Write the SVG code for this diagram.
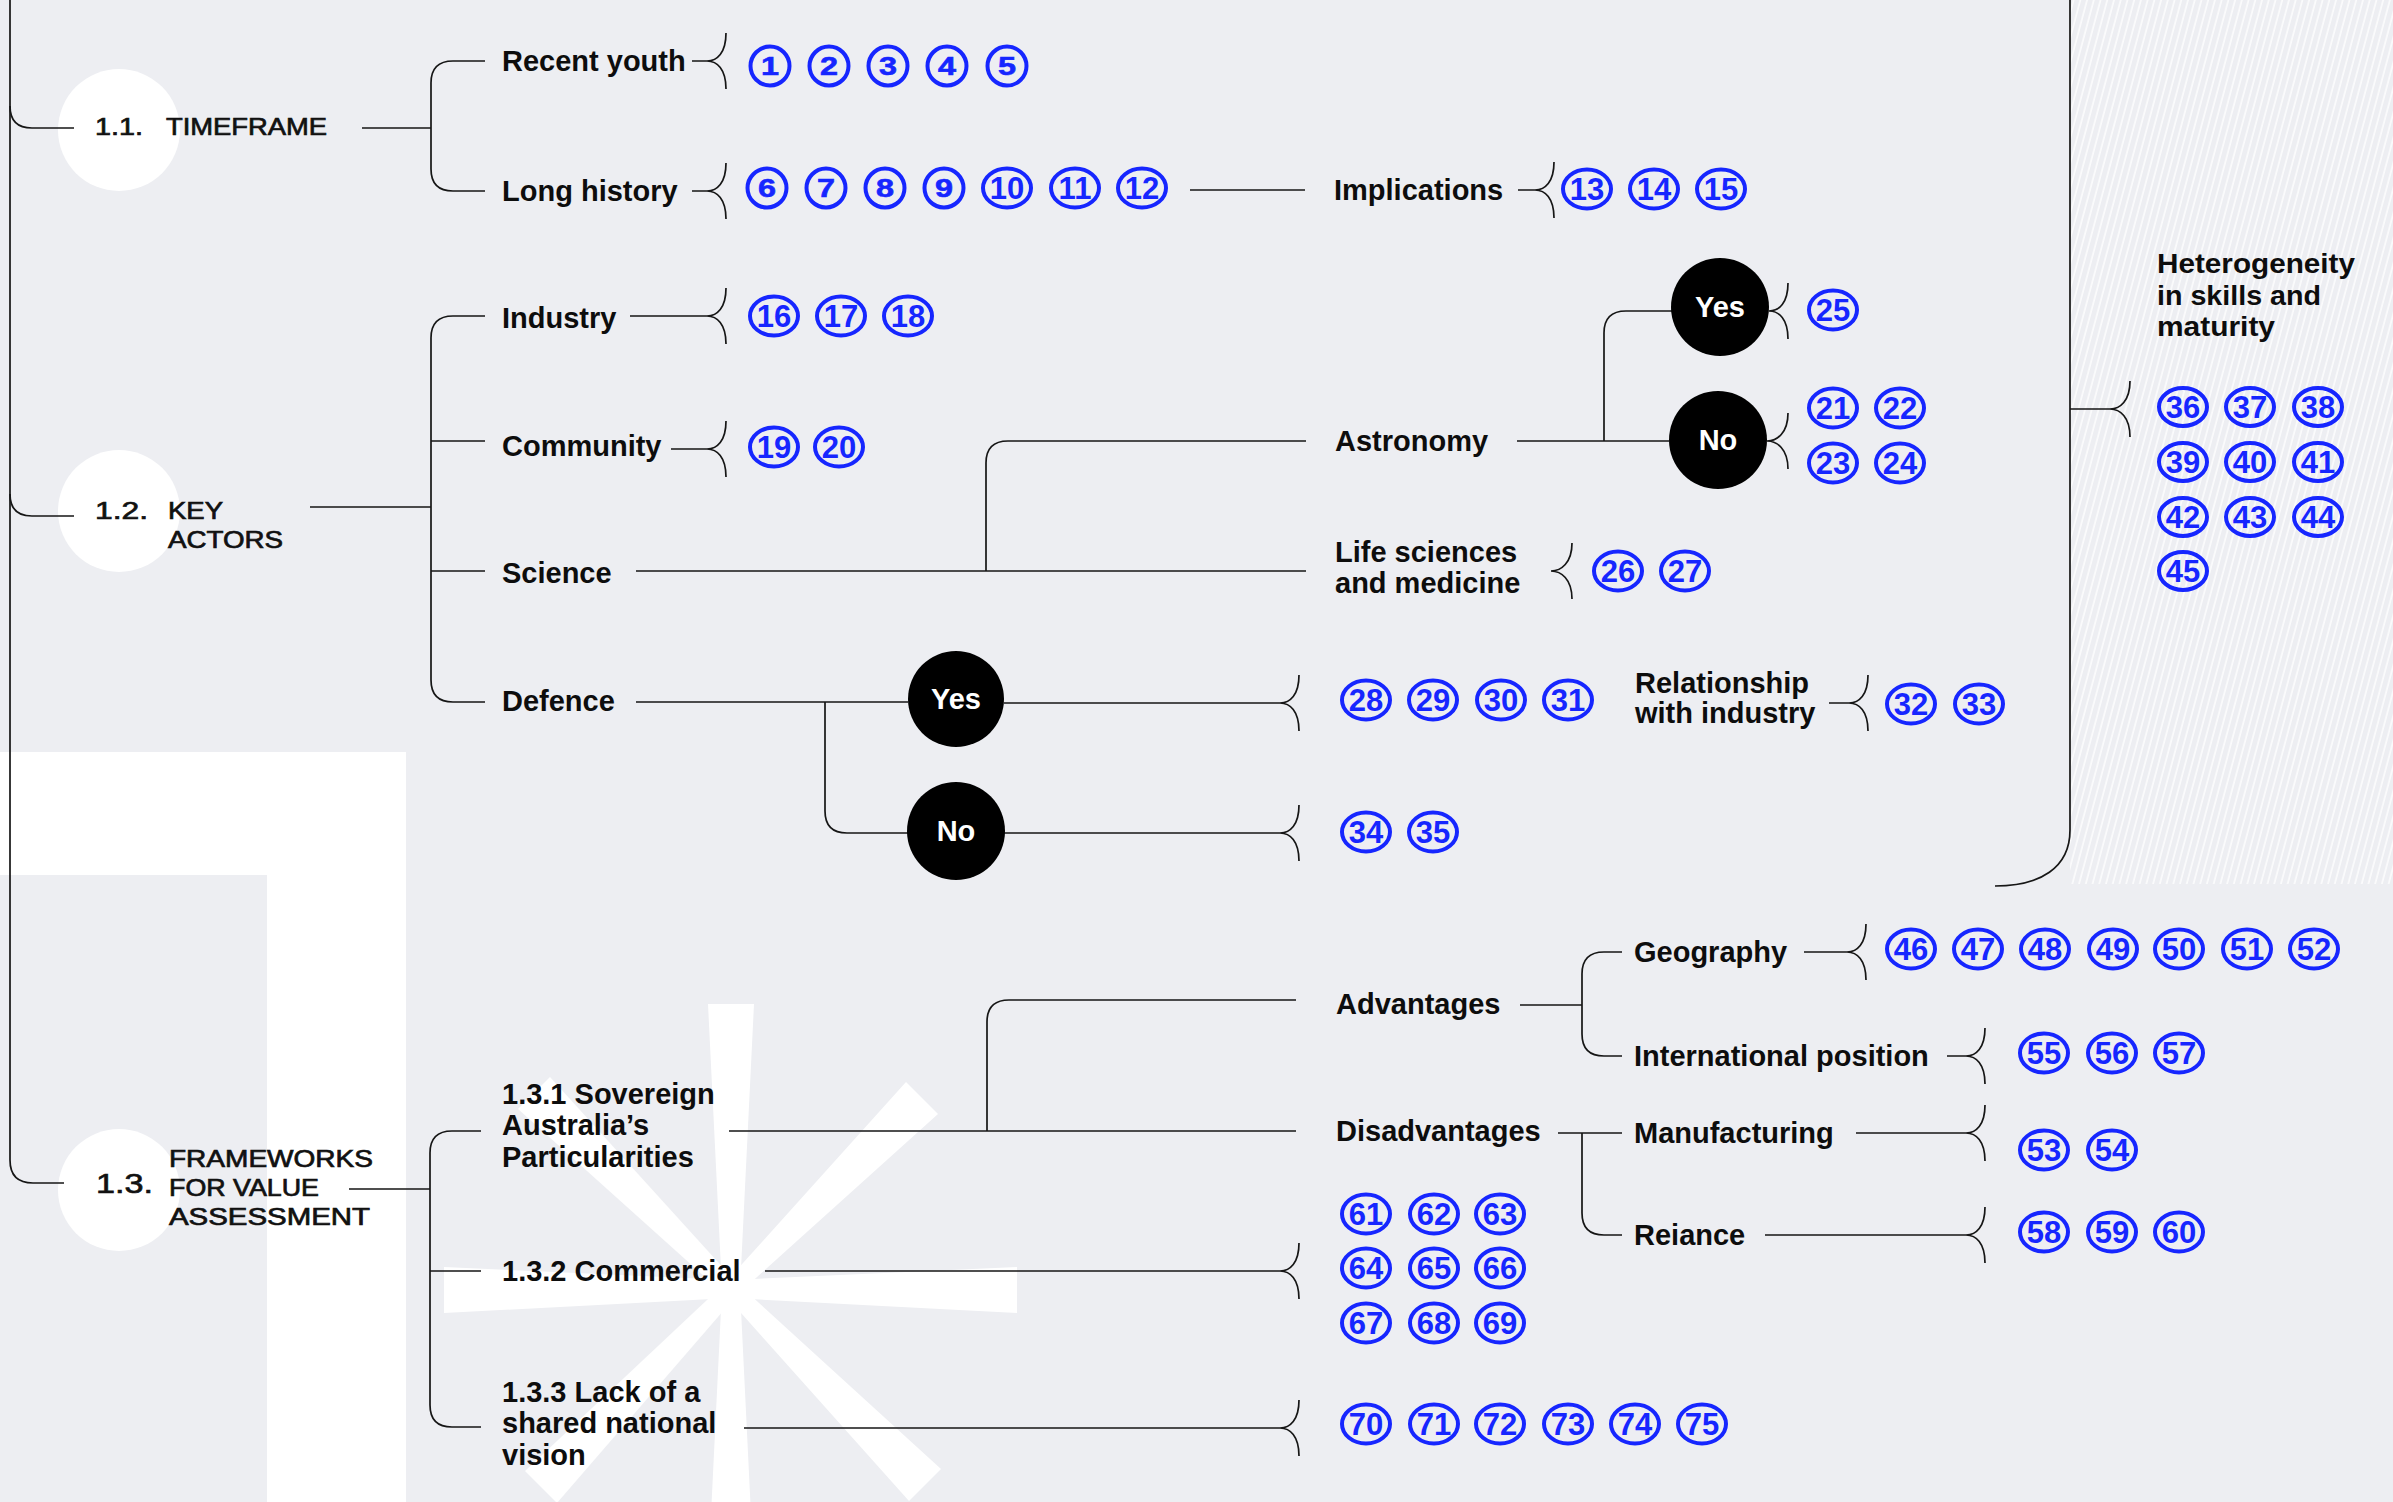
<svg xmlns="http://www.w3.org/2000/svg" width="2393" height="1502" viewBox="0 0 2393 1502">
<defs>
<style>
.ln{fill:none;stroke:#161616;stroke-width:1.7}
.lbl{font-family:"Liberation Sans",Arial,sans-serif;font-weight:700;font-size:29px;fill:#0d0d0d}
.sec{font-family:"Liberation Sans",Arial,sans-serif;font-size:24px;fill:#111;stroke:#111;stroke-width:0.7}
.het{font-family:"Liberation Sans",Arial,sans-serif;font-weight:700;font-size:28px;fill:#0d0d0d}
.o{fill:none;stroke:#1626ff;stroke-width:4}
.n2{font-family:"Liberation Sans",Arial,sans-serif;font-weight:700;font-size:31px;fill:#1626ff;text-anchor:middle}
.n1{font-family:"Liberation Sans",Arial,sans-serif;font-weight:700;font-size:25px;fill:#1626ff;text-anchor:middle;stroke:#1626ff;stroke-width:0.6}
.dot{fill:#000}
.yn{font-family:"Liberation Sans",Arial,sans-serif;font-weight:700;font-size:29px;fill:#fff;text-anchor:middle}
.wc{fill:#fff}
</style>
<pattern id="hatch" width="6.5" height="20" patternUnits="userSpaceOnUse" patternTransform="rotate(15)">
<line x1="1" y1="0" x2="1" y2="20" stroke="#ffffff" stroke-width="1.3"/>
</pattern>
</defs>
<g id="background">
<rect x="0" y="0" width="2393" height="1502" fill="#edeef2"/>
<rect x="2070" y="0" width="323" height="884" fill="url(#hatch)"/>
<polygon fill="#fff" points="0,752 406,752 406,1502 267,1502 267,875 0,875"/>
<g fill="#fff">
<polygon points="740,1289 722,1289 708,1004 754,1004"/>
<polygon points="740,1289 722,1289 708,1576 754,1576"/>
<polygon points="731,1280 731,1298 444,1313 444,1267"/>
<polygon points="731,1280 731,1298 1017,1313 1017,1267"/>
<polygon points="737,1283 550,1077 518,1109 725,1295"/>
<polygon points="725,1283 906,1082 938,1114 737,1295"/>
<polygon points="725,1283 525,1471 557,1503 737,1295"/>
<polygon points="737,1283 941,1469 909,1501 725,1295"/>
</g>
<circle class="wc" cx="119" cy="130" r="61"/>
<circle class="wc" cx="119" cy="511" r="61"/>
<circle class="wc" cx="119" cy="1190" r="61"/>
</g>
<g id="connectors">
<path class="ln" d="M10,0 V1160 Q10,1183 33,1183 H64"/>
<path class="ln" d="M10,106 Q10,128 32,128 H74"/>
<path class="ln" d="M10,494 Q10,516 32,516 H74"/>
<path class="ln" d="M362,128 H431 M485,61 H453 Q431,61 431,83 V169 Q431,191 453,191 H485"/>
<path class="ln" d="M310,507 H431 M485,316 H453 Q431,316 431,338 V680 Q431,702 453,702 H485 M431,441 H485 M431,571 H485"/>
<path class="ln" d="M636,571 H1306 M986,571 V463 Q986,441 1008,441 H1306"/>
<path class="ln" d="M1517,441 H1669 M1604,441 V333 Q1604,311 1626,311 H1672"/>
<path class="ln" d="M636,702 H908 M825,702 V811 Q825,833 847,833 H908"/>
<path class="ln" d="M1190,190 H1305"/>
<path class="ln" d="M349,1189 H430 M481,1131 H452 Q430,1131 430,1153 V1405 Q430,1427 452,1427 H481 M430,1271 H481"/>
<path class="ln" d="M729,1131 H1296 M987,1131 V1022 Q987,1000 1009,1000 H1296"/>
<path class="ln" d="M1520,1005 H1582 M1622,952 H1604 Q1582,952 1582,974 V1034 Q1582,1056 1604,1056 H1622"/>
<path class="ln" d="M1558,1133 H1622 M1582,1133 V1213 Q1582,1235 1604,1235 H1622"/>
<path class="ln" d="M2070,0 V830 C2070,868 2040,886 1995,886"/>
<path class="ln" d="M692,61 H707 M726,33 C726,53 717,61 707,61 C717,61 726,69 726,89"/>
<path class="ln" d="M692,191 H707 M726,163 C726,183 717,191 707,191 C717,191 726,199 726,219"/>
<path class="ln" d="M1518,190 H1535 M1554,162 C1554,182 1545,190 1535,190 C1545,190 1554,198 1554,218"/>
<path class="ln" d="M630,316 H707 M726,288 C726,308 717,316 707,316 C717,316 726,324 726,344"/>
<path class="ln" d="M671,449 H707 M726,421 C726,441 717,449 707,449 C717,449 726,457 726,477"/>
<path class="ln" d="M1788,283 C1788,303 1779,311 1769,311 C1779,311 1788,319 1788,339"/>
<path class="ln" d="M1788,413 C1788,433 1777,441 1767,441 C1777,441 1788,449 1788,469"/>
<path class="ln" d="M1572,543 C1572,563 1561,571 1551,571 C1561,571 1572,579 1572,599"/>
<path class="ln" d="M1004,703 H1280 M1299,675 C1299,695 1290,703 1280,703 C1290,703 1299,711 1299,731"/>
<path class="ln" d="M1004,833 H1280 M1299,805 C1299,825 1290,833 1280,833 C1290,833 1299,841 1299,861"/>
<path class="ln" d="M1829,703 H1849 M1868,675 C1868,695 1859,703 1849,703 C1859,703 1868,711 1868,731"/>
<path class="ln" d="M2070,409 H2110 M2130,381 C2130,401 2120,409 2110,409 C2120,409 2130,417 2130,437"/>
<path class="ln" d="M1804,952 H1847 M1866,924 C1866,944 1857,952 1847,952 C1857,952 1866,960 1866,980"/>
<path class="ln" d="M1947,1056 H1966 M1985,1028 C1985,1048 1976,1056 1966,1056 C1976,1056 1985,1064 1985,1084"/>
<path class="ln" d="M1856,1133 H1966 M1985,1105 C1985,1125 1976,1133 1966,1133 C1976,1133 1985,1141 1985,1161"/>
<path class="ln" d="M1765,1235 H1966 M1985,1207 C1985,1227 1976,1235 1966,1235 C1976,1235 1985,1243 1985,1263"/>
<path class="ln" d="M765,1271 H1280 M1299,1243 C1299,1263 1290,1271 1280,1271 C1290,1271 1299,1279 1299,1299"/>
<path class="ln" d="M744,1428 H1280 M1299,1400 C1299,1420 1290,1428 1280,1428 C1290,1428 1299,1436 1299,1456"/>
</g>
<g id="sec-1-1"><text class="sec" x="95" y="135" textLength="48" lengthAdjust="spacingAndGlyphs">1.1.</text><text class="sec" x="166" y="135" textLength="161" lengthAdjust="spacingAndGlyphs">TIMEFRAME</text></g>
<g id="sec-1-2"><text class="sec" x="95" y="519" textLength="53" lengthAdjust="spacingAndGlyphs">1.2.</text><text class="sec" x="168" y="519" textLength="55" lengthAdjust="spacingAndGlyphs">KEY</text><text class="sec" x="168" y="548" textLength="115" lengthAdjust="spacingAndGlyphs">ACTORS</text></g>
<g id="sec-1-3"><text class="sec" x="96" y="1193" style="font-size:28px" textLength="57" lengthAdjust="spacingAndGlyphs">1.3.</text><text class="sec" x="169" y="1167" textLength="204" lengthAdjust="spacingAndGlyphs">FRAMEWORKS</text><text class="sec" x="169" y="1196" textLength="150" lengthAdjust="spacingAndGlyphs">FOR VALUE</text><text class="sec" x="169" y="1225" textLength="201" lengthAdjust="spacingAndGlyphs">ASSESSMENT</text></g>
<g id="recent-youth"><text class="lbl" x="502" y="71">Recent youth</text></g>
<g id="long-history"><text class="lbl" x="502" y="201">Long history</text></g>
<g id="implications"><text class="lbl" x="1334" y="200">Implications</text></g>
<g id="industry"><text class="lbl" x="502" y="328">Industry</text></g>
<g id="community"><text class="lbl" x="502" y="456">Community</text></g>
<g id="science"><text class="lbl" x="502" y="583">Science</text></g>
<g id="defence"><text class="lbl" x="502" y="711">Defence</text></g>
<g id="astronomy"><text class="lbl" x="1335" y="451">Astronomy</text></g>
<g id="life-sciences"><text class="lbl" x="1335" y="562">Life sciences</text><text class="lbl" x="1335" y="593">and medicine</text></g>
<g id="relationship"><text class="lbl" x="1635" y="693">Relationship</text><text class="lbl" x="1635" y="723">with industry</text></g>
<g id="heterogeneity"><text class="het" x="2157" y="273" textLength="198" lengthAdjust="spacingAndGlyphs">Heterogeneity</text><text class="het" x="2157" y="305" textLength="164" lengthAdjust="spacingAndGlyphs">in skills and</text><text class="het" x="2157" y="336" textLength="118" lengthAdjust="spacingAndGlyphs">maturity</text></g>
<g id="sovereign"><text class="lbl" x="502" y="1104">1.3.1 Sovereign</text><text class="lbl" x="502" y="1135">Australia’s</text><text class="lbl" x="502" y="1167">Particularities</text></g>
<g id="commercial"><text class="lbl" x="502" y="1281">1.3.2 Commercial</text></g>
<g id="lack-vision"><text class="lbl" x="502" y="1402">1.3.3 Lack of a</text><text class="lbl" x="502" y="1433">shared national</text><text class="lbl" x="502" y="1465">vision</text></g>
<g id="advantages"><text class="lbl" x="1336" y="1014">Advantages</text></g>
<g id="disadvantages"><text class="lbl" x="1336" y="1141">Disadvantages</text></g>
<g id="geography"><text class="lbl" x="1634" y="962">Geography</text></g>
<g id="intl-position"><text class="lbl" x="1634" y="1066">International position</text></g>
<g id="manufacturing"><text class="lbl" x="1634" y="1143">Manufacturing</text></g>
<g id="reiance"><text class="lbl" x="1634" y="1245">Reiance</text></g>
<g id="astro-yes"><circle class="dot" cx="1720" cy="307" r="49"/><text class="yn" x="1720" y="317">Yes</text></g>
<g id="astro-no"><circle class="dot" cx="1718" cy="440" r="49"/><text class="yn" x="1718" y="450">No</text></g>
<g id="def-yes"><circle class="dot" cx="956" cy="699" r="48"/><text class="yn" x="956" y="709">Yes</text></g>
<g id="def-no"><circle class="dot" cx="956" cy="831" r="49"/><text class="yn" x="956" y="841">No</text></g>
<g id="ref-1"><circle class="o" cx="770" cy="66" r="19.5"/><text class="n1" x="770" y="75" textLength="18" lengthAdjust="spacingAndGlyphs">1</text></g>
<g id="ref-2"><circle class="o" cx="829" cy="66" r="19.5"/><text class="n1" x="829" y="75" textLength="18" lengthAdjust="spacingAndGlyphs">2</text></g>
<g id="ref-3"><circle class="o" cx="888" cy="66" r="19.5"/><text class="n1" x="888" y="75" textLength="18" lengthAdjust="spacingAndGlyphs">3</text></g>
<g id="ref-4"><circle class="o" cx="947" cy="66" r="19.5"/><text class="n1" x="947" y="75" textLength="18" lengthAdjust="spacingAndGlyphs">4</text></g>
<g id="ref-5"><circle class="o" cx="1007" cy="66" r="19.5"/><text class="n1" x="1007" y="75" textLength="18" lengthAdjust="spacingAndGlyphs">5</text></g>
<g id="ref-6"><circle class="o" cx="767" cy="188" r="19.5"/><text class="n1" x="767" y="197" textLength="18" lengthAdjust="spacingAndGlyphs">6</text></g>
<g id="ref-7"><circle class="o" cx="826" cy="188" r="19.5"/><text class="n1" x="826" y="197" textLength="18" lengthAdjust="spacingAndGlyphs">7</text></g>
<g id="ref-8"><circle class="o" cx="885" cy="188" r="19.5"/><text class="n1" x="885" y="197" textLength="18" lengthAdjust="spacingAndGlyphs">8</text></g>
<g id="ref-9"><circle class="o" cx="944" cy="188" r="19.5"/><text class="n1" x="944" y="197" textLength="18" lengthAdjust="spacingAndGlyphs">9</text></g>
<g id="ref-10"><ellipse class="o" cx="1007" cy="188" rx="24" ry="19.5"/><text class="n2" x="1007" y="199">10</text></g>
<g id="ref-11"><ellipse class="o" cx="1075" cy="188" rx="24" ry="19.5"/><text class="n2" x="1075" y="199">11</text></g>
<g id="ref-12"><ellipse class="o" cx="1142" cy="188" rx="24" ry="19.5"/><text class="n2" x="1142" y="199">12</text></g>
<g id="ref-13"><ellipse class="o" cx="1587" cy="189" rx="24" ry="19.5"/><text class="n2" x="1587" y="200">13</text></g>
<g id="ref-14"><ellipse class="o" cx="1654" cy="189" rx="24" ry="19.5"/><text class="n2" x="1654" y="200">14</text></g>
<g id="ref-15"><ellipse class="o" cx="1721" cy="189" rx="24" ry="19.5"/><text class="n2" x="1721" y="200">15</text></g>
<g id="ref-16"><ellipse class="o" cx="774" cy="316" rx="24" ry="19.5"/><text class="n2" x="774" y="327">16</text></g>
<g id="ref-17"><ellipse class="o" cx="841" cy="316" rx="24" ry="19.5"/><text class="n2" x="841" y="327">17</text></g>
<g id="ref-18"><ellipse class="o" cx="908" cy="316" rx="24" ry="19.5"/><text class="n2" x="908" y="327">18</text></g>
<g id="ref-19"><ellipse class="o" cx="774" cy="447" rx="24" ry="19.5"/><text class="n2" x="774" y="458">19</text></g>
<g id="ref-20"><ellipse class="o" cx="839" cy="447" rx="24" ry="19.5"/><text class="n2" x="839" y="458">20</text></g>
<g id="ref-21"><ellipse class="o" cx="1833" cy="408" rx="24" ry="19.5"/><text class="n2" x="1833" y="419">21</text></g>
<g id="ref-22"><ellipse class="o" cx="1900" cy="408" rx="24" ry="19.5"/><text class="n2" x="1900" y="419">22</text></g>
<g id="ref-23"><ellipse class="o" cx="1833" cy="463" rx="24" ry="19.5"/><text class="n2" x="1833" y="474">23</text></g>
<g id="ref-24"><ellipse class="o" cx="1900" cy="463" rx="24" ry="19.5"/><text class="n2" x="1900" y="474">24</text></g>
<g id="ref-25"><ellipse class="o" cx="1833" cy="310" rx="24" ry="19.5"/><text class="n2" x="1833" y="321">25</text></g>
<g id="ref-26"><ellipse class="o" cx="1618" cy="571" rx="24" ry="19.5"/><text class="n2" x="1618" y="582">26</text></g>
<g id="ref-27"><ellipse class="o" cx="1685" cy="571" rx="24" ry="19.5"/><text class="n2" x="1685" y="582">27</text></g>
<g id="ref-28"><ellipse class="o" cx="1366" cy="700" rx="24" ry="19.5"/><text class="n2" x="1366" y="711">28</text></g>
<g id="ref-29"><ellipse class="o" cx="1433" cy="700" rx="24" ry="19.5"/><text class="n2" x="1433" y="711">29</text></g>
<g id="ref-30"><ellipse class="o" cx="1501" cy="700" rx="24" ry="19.5"/><text class="n2" x="1501" y="711">30</text></g>
<g id="ref-31"><ellipse class="o" cx="1568" cy="700" rx="24" ry="19.5"/><text class="n2" x="1568" y="711">31</text></g>
<g id="ref-32"><ellipse class="o" cx="1911" cy="704" rx="24" ry="19.5"/><text class="n2" x="1911" y="715">32</text></g>
<g id="ref-33"><ellipse class="o" cx="1979" cy="704" rx="24" ry="19.5"/><text class="n2" x="1979" y="715">33</text></g>
<g id="ref-34"><ellipse class="o" cx="1366" cy="832" rx="24" ry="19.5"/><text class="n2" x="1366" y="843">34</text></g>
<g id="ref-35"><ellipse class="o" cx="1433" cy="832" rx="24" ry="19.5"/><text class="n2" x="1433" y="843">35</text></g>
<g id="ref-36"><ellipse class="o" cx="2183" cy="407" rx="24" ry="19"/><text class="n2" x="2183" y="418">36</text></g>
<g id="ref-37"><ellipse class="o" cx="2250" cy="407" rx="24" ry="19"/><text class="n2" x="2250" y="418">37</text></g>
<g id="ref-38"><ellipse class="o" cx="2318" cy="407" rx="24" ry="19"/><text class="n2" x="2318" y="418">38</text></g>
<g id="ref-39"><ellipse class="o" cx="2183" cy="462" rx="24" ry="19"/><text class="n2" x="2183" y="473">39</text></g>
<g id="ref-40"><ellipse class="o" cx="2250" cy="462" rx="24" ry="19"/><text class="n2" x="2250" y="473">40</text></g>
<g id="ref-41"><ellipse class="o" cx="2318" cy="462" rx="24" ry="19"/><text class="n2" x="2318" y="473">41</text></g>
<g id="ref-42"><ellipse class="o" cx="2183" cy="517" rx="24" ry="19"/><text class="n2" x="2183" y="528">42</text></g>
<g id="ref-43"><ellipse class="o" cx="2250" cy="517" rx="24" ry="19"/><text class="n2" x="2250" y="528">43</text></g>
<g id="ref-44"><ellipse class="o" cx="2318" cy="517" rx="24" ry="19"/><text class="n2" x="2318" y="528">44</text></g>
<g id="ref-45"><ellipse class="o" cx="2183" cy="571" rx="24" ry="19"/><text class="n2" x="2183" y="582">45</text></g>
<g id="ref-46"><ellipse class="o" cx="1911" cy="949" rx="24" ry="19.5"/><text class="n2" x="1911" y="960">46</text></g>
<g id="ref-47"><ellipse class="o" cx="1978" cy="949" rx="24" ry="19.5"/><text class="n2" x="1978" y="960">47</text></g>
<g id="ref-48"><ellipse class="o" cx="2045" cy="949" rx="24" ry="19.5"/><text class="n2" x="2045" y="960">48</text></g>
<g id="ref-49"><ellipse class="o" cx="2113" cy="949" rx="24" ry="19.5"/><text class="n2" x="2113" y="960">49</text></g>
<g id="ref-50"><ellipse class="o" cx="2179" cy="949" rx="24" ry="19.5"/><text class="n2" x="2179" y="960">50</text></g>
<g id="ref-51"><ellipse class="o" cx="2247" cy="949" rx="24" ry="19.5"/><text class="n2" x="2247" y="960">51</text></g>
<g id="ref-52"><ellipse class="o" cx="2314" cy="949" rx="24" ry="19.5"/><text class="n2" x="2314" y="960">52</text></g>
<g id="ref-53"><ellipse class="o" cx="2044" cy="1150" rx="24" ry="19.5"/><text class="n2" x="2044" y="1161">53</text></g>
<g id="ref-54"><ellipse class="o" cx="2112" cy="1150" rx="24" ry="19.5"/><text class="n2" x="2112" y="1161">54</text></g>
<g id="ref-55"><ellipse class="o" cx="2044" cy="1053" rx="24" ry="19.5"/><text class="n2" x="2044" y="1064">55</text></g>
<g id="ref-56"><ellipse class="o" cx="2112" cy="1053" rx="24" ry="19.5"/><text class="n2" x="2112" y="1064">56</text></g>
<g id="ref-57"><ellipse class="o" cx="2179" cy="1053" rx="24" ry="19.5"/><text class="n2" x="2179" y="1064">57</text></g>
<g id="ref-58"><ellipse class="o" cx="2044" cy="1232" rx="24" ry="19.5"/><text class="n2" x="2044" y="1243">58</text></g>
<g id="ref-59"><ellipse class="o" cx="2112" cy="1232" rx="24" ry="19.5"/><text class="n2" x="2112" y="1243">59</text></g>
<g id="ref-60"><ellipse class="o" cx="2179" cy="1232" rx="24" ry="19.5"/><text class="n2" x="2179" y="1243">60</text></g>
<g id="ref-61"><ellipse class="o" cx="1366" cy="1214" rx="24" ry="19.5"/><text class="n2" x="1366" y="1225">61</text></g>
<g id="ref-62"><ellipse class="o" cx="1434" cy="1214" rx="24" ry="19.5"/><text class="n2" x="1434" y="1225">62</text></g>
<g id="ref-63"><ellipse class="o" cx="1500" cy="1214" rx="24" ry="19.5"/><text class="n2" x="1500" y="1225">63</text></g>
<g id="ref-64"><ellipse class="o" cx="1366" cy="1268" rx="24" ry="19.5"/><text class="n2" x="1366" y="1279">64</text></g>
<g id="ref-65"><ellipse class="o" cx="1434" cy="1268" rx="24" ry="19.5"/><text class="n2" x="1434" y="1279">65</text></g>
<g id="ref-66"><ellipse class="o" cx="1500" cy="1268" rx="24" ry="19.5"/><text class="n2" x="1500" y="1279">66</text></g>
<g id="ref-67"><ellipse class="o" cx="1366" cy="1323" rx="24" ry="19.5"/><text class="n2" x="1366" y="1334">67</text></g>
<g id="ref-68"><ellipse class="o" cx="1434" cy="1323" rx="24" ry="19.5"/><text class="n2" x="1434" y="1334">68</text></g>
<g id="ref-69"><ellipse class="o" cx="1500" cy="1323" rx="24" ry="19.5"/><text class="n2" x="1500" y="1334">69</text></g>
<g id="ref-70"><ellipse class="o" cx="1366" cy="1424" rx="24" ry="19.5"/><text class="n2" x="1366" y="1435">70</text></g>
<g id="ref-71"><ellipse class="o" cx="1434" cy="1424" rx="24" ry="19.5"/><text class="n2" x="1434" y="1435">71</text></g>
<g id="ref-72"><ellipse class="o" cx="1500" cy="1424" rx="24" ry="19.5"/><text class="n2" x="1500" y="1435">72</text></g>
<g id="ref-73"><ellipse class="o" cx="1568" cy="1424" rx="24" ry="19.5"/><text class="n2" x="1568" y="1435">73</text></g>
<g id="ref-74"><ellipse class="o" cx="1635" cy="1424" rx="24" ry="19.5"/><text class="n2" x="1635" y="1435">74</text></g>
<g id="ref-75"><ellipse class="o" cx="1702" cy="1424" rx="24" ry="19.5"/><text class="n2" x="1702" y="1435">75</text></g>
</svg>
